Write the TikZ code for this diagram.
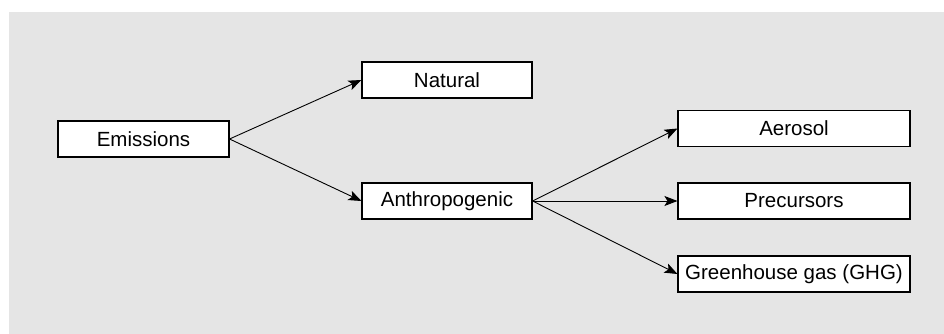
\documentclass[tikz,border=0pt]{standalone}
\usepackage{fontspec}
\setmainfont{Liberation Sans}
\usetikzlibrary{arrows.meta}
\definecolor{panel}{HTML}{E5E5E5}
\begin{document}
\begin{tikzpicture}[x=1pt,y=1pt,
  box/.style={draw=black, line width=1.1pt, fill=white, rectangle, inner sep=0pt, font=\fontsize{20.5}{24}\selectfont},
  link/.style={draw=black, line width=0.9pt, -{Stealth[length=13pt,width=10pt,inset=3pt]}}]
  % page and grey panel
  \useasboundingbox (0,0) rectangle (944,334);
  \fill[white] (0,0) rectangle (944,334);
  \fill[panel] (9,0) rectangle (944,322);
  % boxes (centres in page pixels, y measured upward)
  \node[box, minimum width=171pt, minimum height=36pt] (em) at (143.5,195) {Emissions};
  \node[box, minimum width=170pt, minimum height=36pt] (nat) at (447,254) {Natural};
  \node[box, minimum width=170pt, minimum height=36pt] (ant) at (447,133) {Anthropogenic};
  \node[box, minimum width=232pt, minimum height=36pt] (aer) at (794,205.5) {Aerosol};
  \node[box, minimum width=232pt, minimum height=36pt] (pre) at (794,133) {Precursors};
  \node[box, minimum width=232pt, minimum height=36pt] (ghg) at (794,60) {Greenhouse gas (GHG)};
  % connectors
  \draw[link] (em.east) -- (nat.west);
  \draw[link] (em.east) -- (ant.west);
  \draw[link] (ant.east) -- (aer.west);
  \draw[link] (ant.east) -- (pre.west);
  \draw[link] (ant.east) -- (ghg.west);
\end{tikzpicture}
\end{document}
